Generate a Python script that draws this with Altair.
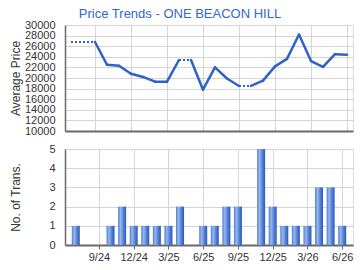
import json
import altair as alt
import pandas as pd

months = ["7/24", "8/24", "9/24", "10/24", "11/24", "12/24", "1/25", "2/25",
          "3/25", "4/25", "5/25", "6/25", "7/25", "8/25", "9/25", "10/25",
          "11/25", "12/25", "1/26", "2/26", "3/26", "4/26", "5/26", "6/26"]
trans = [1, 0, 0, 1, 2, 1, 1, 1, 1, 2, 0, 1, 1, 2, 2, 0, 5, 2, 1, 1, 1, 3, 3, 1]
price = [26800, 26800, 26800, 22500, 22300, 20800, 20200, 19300, 19300, 23400,
         23400, 17800, 22000, 19900, 18500, 18500, 19500, 22200, 23600, 28200,
         23200, 22100, 24500, 24400]
tick_months = ["9/24", "12/24", "3/25", "6/25", "9/25", "12/25", "3/26", "6/26"]
price_ticks = list(range(10000, 30001, 2000))
trans_ticks = [0, 1, 2, 3, 4, 5]

FONT = "Liberation Sans"
BLUE = "#2f62c9"

idx = list(range(len(months)))
bars_df = pd.DataFrame({"i": idx, "month": months, "trans": trans})

rows = []
for k in range(len(months) - 1):
    style = "dotted" if trans[k + 1] == 0 else "solid"
    for j in (k, k + 1):
        rows.append({"seg": k, "i": j, "price": price[j], "style": style})
seg_df = pd.DataFrame(rows)

tick_vals = [months.index(m) for m in tick_months]
label_expr = json.dumps(months) + "[datum.value]"
xscale = alt.Scale(domain=[-0.5, len(months) - 0.5], nice=False, zero=False)

axis_common = dict(labelFont=FONT, titleFont=FONT, labelColor="#333", titleColor="#333",
                   gridColor="#d4d4d4", domainColor="#6a6a6a", labelOverlap=False)

x_top = alt.X("i:Q", scale=xscale,
              axis=alt.Axis(values=tick_vals, labels=False, ticks=False, grid=True,
                            domainWidth=2, title=None, **axis_common))
y_top = alt.Y("price:Q", scale=alt.Scale(domain=[10000, 30000], nice=False, zero=False),
              axis=alt.Axis(values=price_ticks, format="d", title="Average Price", grid=True,
                            ticks=False, labelFontSize=11, labelPadding=10, titleFontSize=12,
                            titleFontWeight="normal", titleX=-50, titleBaseline="middle",
                            domainWidth=1.5, **axis_common))

solid = alt.Chart(seg_df).transform_filter(alt.datum.style == "solid").mark_line(
    color=BLUE, strokeWidth=2.5, strokeCap="round", strokeJoin="round"
).encode(x=x_top, y=y_top, detail="seg:N")

dotted = alt.Chart(seg_df).transform_filter(alt.datum.style == "dotted").mark_line(
    color=BLUE, strokeWidth=2, strokeDash=[2, 2], strokeCap="butt"
).encode(x=x_top, y=y_top, detail="seg:N")

top = alt.layer(solid, dotted).properties(
    width=288, height=106,
    title=alt.TitleParams("Price Trends - ONE BEACON HILL", font=FONT, fontSize=13,
                          fontWeight="normal", color="#3366cc", anchor="middle",
                          frame="group", dx=-29, offset=-12, baseline="alphabetic"))

grad = alt.Gradient(gradient="linear", x1=0, x2=1, y1=0, y2=0, stops=[
    alt.GradientStop(color="#4a7bd3", offset=0),
    alt.GradientStop(color="#9bb7ec", offset=0.3),
    alt.GradientStop(color="#5482d6", offset=0.65),
    alt.GradientStop(color="#2a58bd", offset=1)])

bottom = alt.Chart(bars_df).mark_bar(size=8, color=grad).encode(
    x=alt.X("i:Q", scale=xscale,
            axis=alt.Axis(values=tick_vals, labelExpr=label_expr, grid=True, ticks=True,
                          tickSize=4, tickColor="#6a6a6a", domainWidth=2, labelFontSize=11,
                          labelPadding=2, title=None, **axis_common)),
    y=alt.Y("trans:Q", scale=alt.Scale(domain=[0, 5], nice=False),
            axis=alt.Axis(values=trans_ticks, format="d", title="No. of Trans.", grid=True,
                          ticks=False, labelFontSize=11, labelPadding=10, titleFontSize=12,
                          titleFontWeight="normal", titleX=-50, titleBaseline="middle",
                          domainWidth=1.5, **axis_common)),
    tooltip=["month:N", "trans:Q"]
).properties(width=288, height=96)

chart = alt.vconcat(top, bottom, spacing=18, bounds="flush").properties(
    padding={"left": 8, "top": 7, "right": 5, "bottom": 5}
).configure_view(stroke=None).configure(background="white")

chart.save("out.html", embed_options={"renderer": "svg", "actions": False})
